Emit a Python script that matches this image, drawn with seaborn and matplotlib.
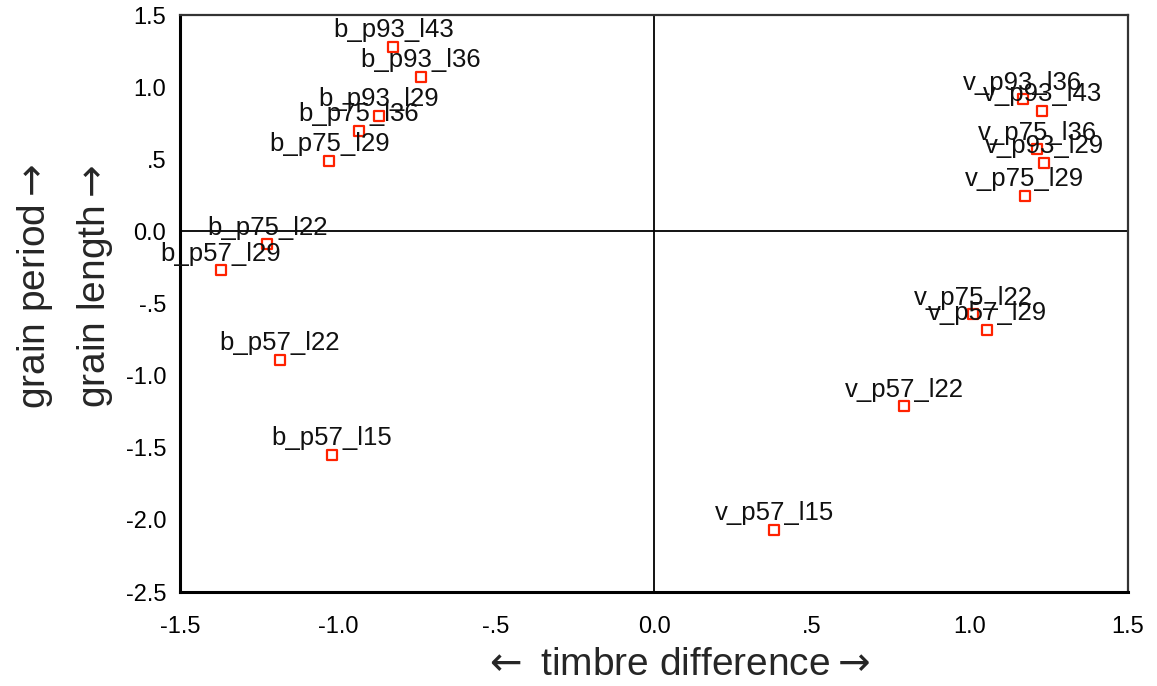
import pandas as pd
import matplotlib.pyplot as plt
import seaborn as sns

# point names and their coordinates
names = ['b_p93_l43', 'b_p93_l36', 'b_p93_l29', 'b_p75_l36', 'b_p75_l29',
         'b_p75_l22', 'b_p57_l29', 'b_p57_l22', 'b_p57_l15',
         'v_p93_l36', 'v_p93_l43', 'v_p75_l36', 'v_p93_l29', 'v_p75_l29',
         'v_p75_l22', 'v_p57_l29', 'v_p57_l22', 'v_p57_l15']
timbre = [-0.825, -0.738, -0.871, -0.934, -1.028,
          -1.224, -1.371, -1.184, -1.019,
          1.167, 1.228, 1.213, 1.234, 1.173,
          1.009, 1.055, 0.791, 0.380]
grain = [1.279, 1.071, 0.799, 0.697, 0.489,
         -0.089, -0.269, -0.889, -1.549,
         0.916, 0.835, 0.570, 0.477, 0.246,
         -0.574, -0.681, -1.212, -2.067]

x_ticks = [-1.5, -1.0, -0.5, 0.0, 0.5, 1.0, 1.5]
x_tick_labels = ['-1.5', '-1.0', '-.5', '0.0', '.5', '1.0', '1.5']
y_ticks = [1.5, 1.0, 0.5, 0.0, -0.5, -1.0, -1.5, -2.0, -2.5]
y_tick_labels = ['1.5', '1.0', '.5', '0.0', '-.5', '-1.0', '-1.5', '-2.0', '-2.5']

df = pd.DataFrame({'name': names, 'timbre': timbre, 'grain': grain})

sns.set_style('white')
plt.rcParams['font.family'] = ['Liberation Sans', 'DejaVu Sans']
plt.rcParams['mathtext.fontset'] = 'dejavusans'

fig = plt.figure(figsize=(11.57, 6.86), dpi=100)
ax = fig.add_axes([0.1556, 0.137, 0.975 - 0.1556, 0.978 - 0.137])

# reference lines through the origin
ax.axhline(0, color='black', lw=1.3, zorder=1)
ax.axvline(0, color='black', lw=1.3, zorder=1)

sns.scatterplot(data=df, x='timbre', y='grain', marker='s', s=60,
                facecolor='white', edgecolor='#ff2200', linewidth=1.6,
                ax=ax, zorder=3)

for _, row in df.iterrows():
    ax.annotate(row['name'], (row['timbre'], row['grain']),
                xytext=(0, 7), textcoords='offset points',
                ha='center', va='baseline', fontsize=18.5, color='#111111',
                zorder=4)

ax.set_xlim(-1.5, 1.5)
ax.set_ylim(-2.5, 1.5)
ax.set_xticks(x_ticks)
ax.set_xticklabels(x_tick_labels)
ax.set_yticks(y_ticks)
ax.set_yticklabels(y_tick_labels)
ax.tick_params(axis='both', direction='out', length=5, width=1.5,
               labelsize=17, colors='black', pad=5)
ax.tick_params(axis='x', pad=12)

for side in ['left', 'bottom']:
    ax.spines[side].set_linewidth(2.2)
    ax.spines[side].set_color('black')
for side in ['top', 'right']:
    ax.spines[side].set_linewidth(1.6)
    ax.spines[side].set_color('#333333')

ax.set_xlabel('')
ax.set_ylabel('')
fig.text(0.584, 0.031, r'$\leftarrow$ timbre difference$\rightarrow$',
         ha='center', va='center', fontsize=28)
fig.text(0.030, 0.583, r'grain period$\rightarrow$', ha='center',
         va='center', rotation=90, fontsize=28)
fig.text(0.082, 0.583, r'grain length$\rightarrow$', ha='center',
         va='center', rotation=90, fontsize=28)

fig.savefig('out.png', dpi=100)
